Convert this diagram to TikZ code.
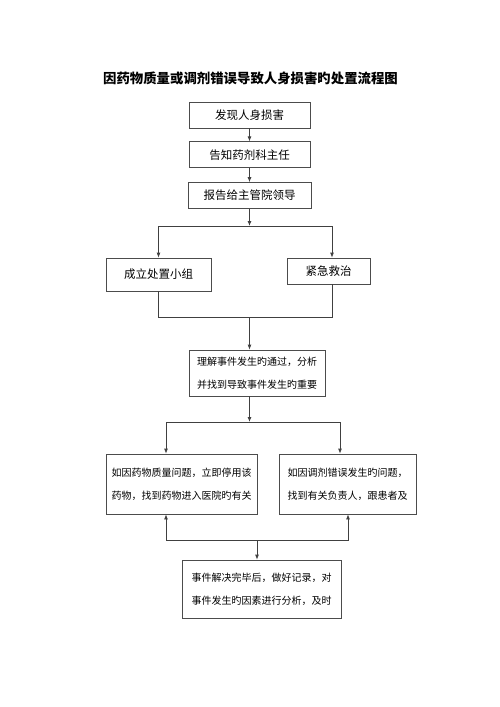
\documentclass[tikz,border=0pt]{standalone}
\usepackage{fontspec}
\newfontfamily\cjk{Noto Sans CJK SC}
\usetikzlibrary{positioning,arrows.meta}

\begin{document}
\begin{tikzpicture}[x=1pt,y=-1pt,->,>={Latex[length=5pt,width=4pt]},
            line width=0.8pt,draw=black!75,node distance=13pt,
            box/.style={draw=black!70,inner sep=0pt,font=\cjk\fontsize{11.5}{14}\selectfont},
            para/.style={box,align=left,font=\cjk\fontsize{10}{23}\selectfont}]

        \useasboundingbox (0,0) rectangle (500,707);

        % Define vertices
        \node[font=\cjk\bfseries\fontsize{13.4}{16}\selectfont] (title) at (250.5,78) {因药物质量或调剂错误导致人身损害旳处置流程图};
        \node[box,minimum width=121pt,minimum height=26pt] (found) at (249.5,115) {发现人身损害};
        \node[box,minimum width=121pt,minimum height=26pt] (notify) [below=of found] {告知药剂科主任};
        \node[box,minimum width=123pt,minimum height=26pt] (report) [below=14pt of notify] {报告给主管院领导};
        \node[box,minimum width=105pt,minimum height=33pt] (team) at (158.5,274.5) {成立处置小组};
        \node[box,minimum width=83pt,minimum height=26pt] (rescue) at (328.5,271) {紧急救治};
        \node[para,minimum width=136pt,minimum height=46pt] (cause) at (257,373)
            {理解事件发生旳通过，分析\\并找到导致事件发生旳重要};
        \node[para,minimum width=151pt,minimum height=60pt] (drug) at (181.5,484)
            {如因药物质量问题，立即停用该\\药物，找到药物进入医院旳有关};
        \node[para,minimum width=137pt,minimum height=60pt] (dose) at (347.5,484)
            {如因调剂错误发生旳问题，\\找到有关负责人，跟患者及};
        \node[para,minimum width=159pt,minimum height=58pt] (record) at (261.5,589)
            {事件解决完毕后，做好记录，对\\事件发生旳因素进行分析，及时};

        % Junctions
        \coordinate (split1) at (249.5,226);
        \coordinate (split1r) at (332,226);
        \coordinate (merge1) at (249.5,317);
        \coordinate (split2) at (249.5,422);
        \coordinate (split2l) at (166,422);
        \coordinate (split2r) at (340,422);
        \coordinate (merge2) at (257,540);
        \coordinate (merge2l) at (166,540);
        \coordinate (merge2r) at (348,540);

        % Draw edges
        \path
            (found) edge (notify)
            (notify) edge (report)
            (report) edge (split1);
        \draw (split1) -| (team.north);
        \draw (split1) -- (split1r) -- (split1r |- rescue.north);
        \draw[-] (team.south) |- (merge1);
        \draw[-] (split1r |- rescue.south) |- (merge1);
        \draw (merge1) -- (merge1 |- cause.north);
        \draw (split1 |- cause.south) -- (split2);
        \draw (split2) -- (split2l) -- (split2l |- drug.north);
        \draw (split2) -- (split2r) -- (split2r |- dose.north);
        \draw (merge2) -- (merge2l) -- (merge2l |- drug.south);
        \draw (merge2) -- (merge2r) -- (merge2r |- dose.south);
        \draw (merge2) -- (merge2 |- record.north);

        \end{tikzpicture}
\end{document}
